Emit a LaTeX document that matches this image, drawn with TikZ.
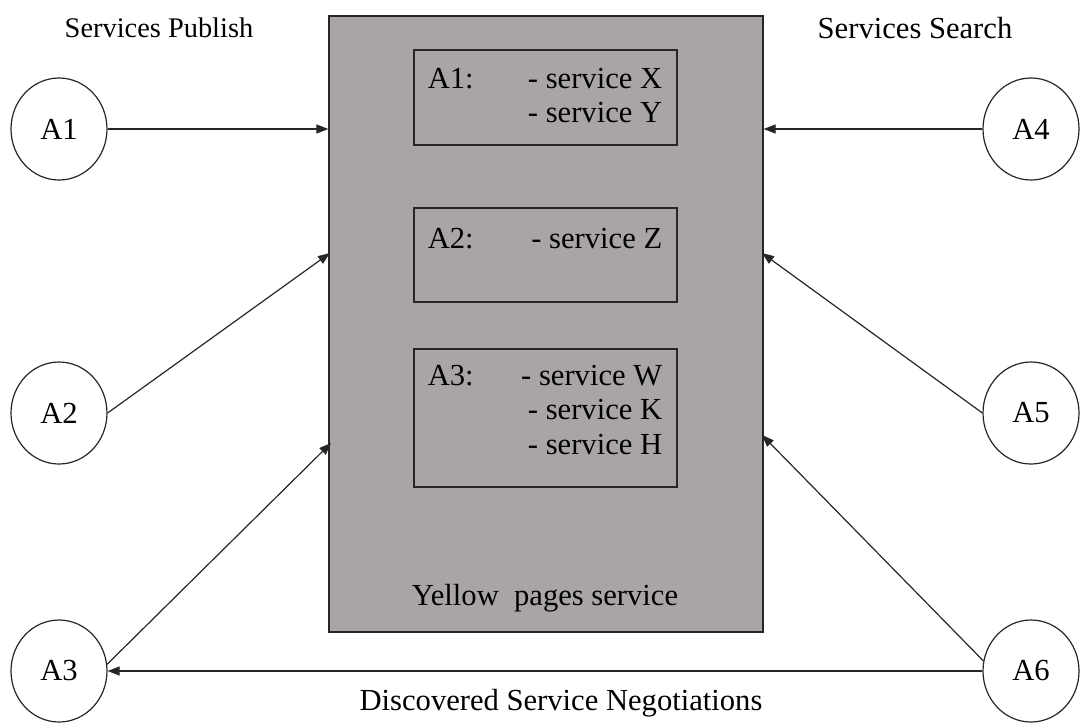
\documentclass[tikz,border=0pt]{standalone}
\usepackage{fontspec}
\setmainfont{Liberation Serif}
\usetikzlibrary{positioning,arrows.meta,calc,shapes.geometric}
\definecolor{ypline}{HTML}{262626}
\definecolor{ypfill}{HTML}{A9A5A5}

\begin{document}
\begin{tikzpicture}[x=0.5pt, y=-0.5pt,
  font=\fontsize{15.3}{17.4}\selectfont,
  agent/.style={draw=ypline, ellipse, line width=0.6pt, inner sep=0pt,
                minimum width=48pt, minimum height=51pt},
  board/.style={draw=ypline, fill=ypfill, line width=0.6pt, inner sep=0pt,
                minimum width=217pt, minimum height=308pt},
  slot/.style={draw=ypline, line width=0.6pt, inner sep=0pt,
               minimum width=131.5pt, minimum height=#1},
  tag/.style={anchor=north west, inner sep=0pt},
  list/.style={anchor=north east, inner sep=0pt, align=right},
  arr/.style={-{Triangle[length=6pt,width=4.5pt]}, draw=ypline, line width=0.6pt},
]
  \useasboundingbox (0,0) rectangle (1080,724);

  % yellow pages board
  \node[board] (yp) at (546,324) {};
  \node (yplabel) at (545,598) {Yellow\ \ pages service};

  \node[slot=47.5pt] (s1) at (545.5,97.5) {};
  \node[tag]  at ($(s1.north west)+(14,18)$)  {A1:};
  \node[list] at ($(s1.north east)+(-15,18)$) {- service X\\- service Y};

  \node[slot=47pt] (s2) at (545.5,255) {};
  \node[tag]  at ($(s2.north west)+(14,20)$)  {A2:};
  \node[list] at ($(s2.north east)+(-15,20)$) {- service Z};

  \node[slot=69pt] (s3) at (545.5,418) {};
  \node[tag]  at ($(s3.north west)+(14,16)$)  {A3:};
  \node[list] at ($(s3.north east)+(-15,16)$) {- service W\\- service K\\- service H};

  % agents
  \node[agent] (a1) at (59,129)   {A1};
  \node[agent] (a2) at (59,413)   {A2};
  \node[agent] (a3) at (59,671)   {A3};
  \node[agent] (a4) at (1031,129) {A4};
  \node[agent] (a5) at (1031,413) {A5};
  \node[agent] (a6) at (1031,671) {A6};

  \node[font=\fontsize{14.2}{17}\selectfont] (pub) at (159,28) {Services Publish};
  \node (srch) at (915,28) {Services Search};

  \coordinate (p2) at (330,253);
  \coordinate (p3) at (331,443);
  \coordinate (p5) at (762,253);
  \coordinate (p6) at (762,435);

  \draw[arr] (a1) -- (a1 -| yp.west);
  \draw[arr] (a2.east) -- (p2);
  \draw[arr] (a3.8) -- (p3);
  \draw[arr] (a4) -- (a4 -| yp.east);
  \draw[arr] (a5.west) -- (p5);
  \draw[arr] (a6.168) -- (p6);
  \draw[arr] (a6) -- node[below=9pt, inner sep=0pt, xshift=8pt] {Discovered Service Negotiations} (a3);
\end{tikzpicture}
\end{document}
